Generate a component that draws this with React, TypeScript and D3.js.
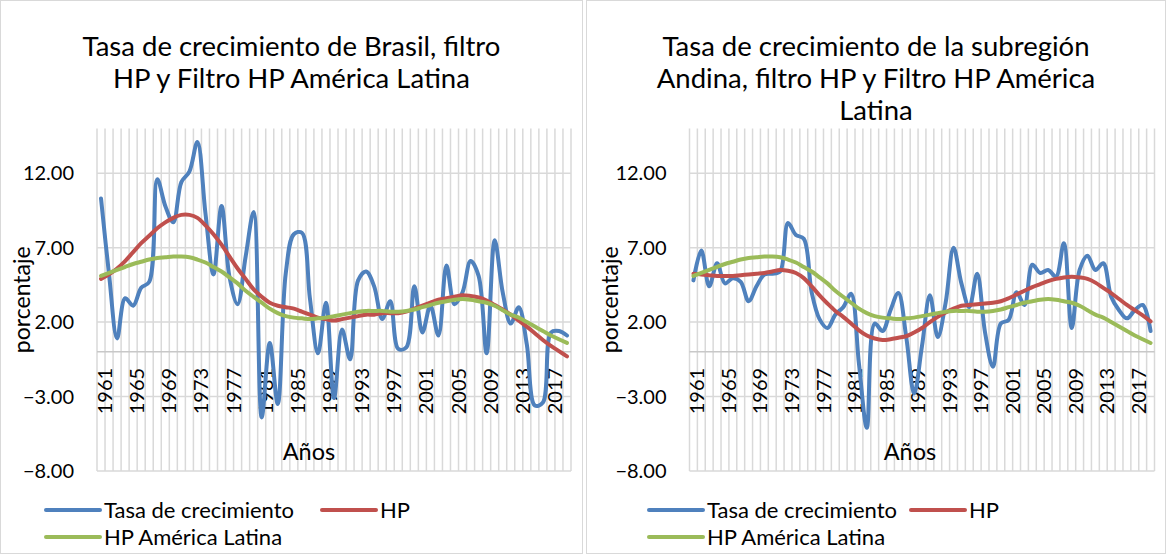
import React from "react";
import * as d3 from "d3";

// categories
const years = [
  1961, 1962, 1963, 1964, 1965, 1966, 1967, 1968, 1969, 1970,
  1971, 1972, 1973, 1974, 1975, 1976, 1977, 1978, 1979, 1980,
  1981, 1982, 1983, 1984, 1985, 1986, 1987, 1988, 1989, 1990,
  1991, 1992, 1993, 1994, 1995, 1996, 1997, 1998, 1999, 2000,
  2001, 2002, 2003, 2004, 2005, 2006, 2007, 2008, 2009, 2010,
  2011, 2012, 2013, 2014, 2015, 2016, 2017, 2018, 2019,
];
const yearTicks = [1961, 1965, 1969, 1973, 1977, 1981, 1985, 1989, 1993, 1997, 2001, 2005, 2009, 2013, 2017];
const yTicks = [-8, -3, 2, 7, 12];
const seriesNames = ["Tasa de crecimiento", "HP", "HP América Latina"];

// Brasil
const brasilTasa = [
  10.3, 5.2, 0.9, 3.6, 3.1, 4.3, 4.7, 11.6, 9.8, 8.7,
  11.4, 12.1, 14.1, 9.3, 5.2, 9.8, 5.0, 3.2, 6.4, 9.4,
  -4.4, 0.6, -3.5, 5.3, 7.9, 8.0, 3.6, -0.1, 3.3, -3.1,
  1.5, -0.5, 4.8, 5.4, 4.4, 2.2, 3.4, 0.2, 0.3, 4.4,
  1.3, 3.1, 1.1, 5.8, 3.2, 4.0, 6.1, 5.1, -0.1, 7.5,
  4.0, 1.9, 3.0, 0.5, -3.6, -3.4, 1.3, 1.4, 1.1,
];
const brasilHP = [
  4.9, 5.2, 5.6, 6.1, 6.7, 7.3, 7.8, 8.3, 8.7, 9.0,
  9.2, 9.2, 9.0, 8.5, 7.9, 7.2, 6.4, 5.6, 4.9, 4.2,
  3.7, 3.3, 3.1, 3.0, 2.9, 2.7, 2.5, 2.3, 2.2, 2.1,
  2.2, 2.3, 2.4, 2.5, 2.5, 2.6, 2.6, 2.6, 2.7, 2.9,
  3.1, 3.3, 3.5, 3.6, 3.7, 3.8, 3.75, 3.65, 3.45, 3.15,
  2.85, 2.5, 2.1, 1.7, 1.25, 0.8, 0.4, 0.05, -0.3,
];

// América Latina (same in both panels)
const latamHP = [
  5.1, 5.3, 5.5, 5.7, 5.9, 6.05, 6.2, 6.3, 6.35, 6.4,
  6.4, 6.35, 6.2, 6.0, 5.7, 5.4, 5.0, 4.6, 4.1, 3.7,
  3.3, 2.9, 2.6, 2.4, 2.3, 2.25, 2.2, 2.25, 2.3, 2.4,
  2.5, 2.6, 2.7, 2.75, 2.75, 2.75, 2.7, 2.7, 2.75, 2.85,
  3.0, 3.15, 3.3, 3.4, 3.5, 3.55, 3.5, 3.4, 3.3, 3.1,
  2.8, 2.5, 2.3, 2.0, 1.7, 1.4, 1.1, 0.85, 0.6,
];

// subregion Andina
const andinaTasa = [
  4.8, 6.8, 4.4, 5.95, 4.6, 4.95, 4.7, 3.4, 4.4, 5.2,
  5.25, 5.4, 8.65, 7.85, 7.6, 4.0, 2.2, 1.6, 2.5, 3.0,
  3.9, -0.8, -5.1, 1.9, 1.4, 2.8, 3.95, 1.0, -2.8, 0.4,
  3.8, 1.0, 3.3, 7.0, 4.6, 3.0, 5.25, 1.3, -1.0, 1.9,
  2.15, 4.0, 3.15, 5.85, 5.3, 5.5, 5.05, 7.3, 1.6, 5.5,
  6.45, 5.5, 5.95, 3.7, 2.8, 2.25, 2.8, 3.15, 1.4,
];
const andinaHP = [
  5.25, 5.2, 5.15, 5.1, 5.1, 5.1, 5.15, 5.2, 5.25, 5.3,
  5.4, 5.5, 5.45, 5.3, 4.95, 4.4, 3.8, 3.25, 2.75, 2.35,
  1.9, 1.45, 1.1, 0.9, 0.8, 0.85, 0.95, 1.05, 1.3, 1.6,
  2.0, 2.35, 2.65, 2.9, 3.1, 3.15, 3.2, 3.25, 3.3, 3.4,
  3.6, 3.85, 4.1, 4.35, 4.55, 4.75, 4.9, 5.0, 5.05, 5.0,
  4.9, 4.65, 4.3, 3.95, 3.55, 3.15, 2.8, 2.45, 2.05,
];

const COLORS = ["#4F81BD", "#C0504D", "#9BBB59"];
const FONT = "Lato, 'Open Sans', sans-serif";
const GRID = "#D9D9D9";

const Panel = ({ box, plot, title, series, labels }) => {
  const x = d3.scaleBand().domain(years).range([plot.left, plot.right]);
  const y = d3.scaleLinear().domain([-8, 15]).range([plot.bottom, plot.top]);
  const cx = (yr) => x(yr) + x.bandwidth() / 2;
  const line = d3
    .line()
    .x((d, i) => cx(years[i]))
    .y((d) => y(d))
    .curve(d3.curveCatmullRom.alpha(0.5));

  const bounds = years.map((yr) => x(yr)).concat([plot.right]);
  const cTitle = (box.x0 + box.x1) / 2;

  return (
    <g>
      <rect x={box.x0 + 0.5} y={0.5} width={box.x1 - box.x0 - 1} height={553} fill="white" stroke={GRID} strokeWidth={1} />

      {title.map((t, i) => (
        <text key={t} x={cTitle} y={56 + i * 32} textAnchor="middle" fontSize={27.5} fill="#000">
          {t}
        </text>
      ))}

      {/* vertical gridlines between categories */}
      {bounds.map((bx, i) => (
        <line key={"v" + i} x1={bx} x2={bx} y1={plot.top} y2={plot.bottom} stroke={GRID} strokeWidth={1.5} />
      ))}
      {yTicks.map((t) => (
        <line key={"h" + t} x1={plot.left} x2={plot.right} y1={y(t)} y2={y(t)} stroke={GRID} strokeWidth={1.5} />
      ))}
      <line x1={plot.left} x2={plot.right} y1={y(0)} y2={y(0)} stroke="#C8C8C8" strokeWidth={1.5} />

      {yTicks.map((t) => (
        <text key={"yl" + t} x={plot.left - 23} y={y(t)} dy="0.35em" textAnchor="end" fontSize={20}>
          {d3.format(".2f")(t)}
        </text>
      ))}

      {yearTicks.map((yr) => (
        <text
          key={"xl" + yr}
          transform={`translate(${cx(yr) + 4},${y(0) + 16}) rotate(-90)`}
          textAnchor="end"
          dy="0.35em"
          fontSize={20}
        >
          {yr}
        </text>
      ))}

      <text
        transform={`translate(${labels.porcX},${(plot.top + plot.bottom) / 2}) rotate(-90)`}
        textAnchor="middle"
        dy="0.35em"
        fontSize={23}
      >
        porcentaje
      </text>
      <text x={labels.aniosX} y={460} textAnchor="middle" fontSize={23.5}>
        Años
      </text>

      {series.map((s, i) => (
        <path key={"s" + i} d={line(s)} fill="none" stroke={COLORS[i]} strokeWidth={4} strokeLinejoin="round" strokeLinecap="round" />
      ))}

      {labels.legend.map((l, i) => (
        <g key={"lg" + i}>
          <line x1={l.x} x2={l.x + 54} y1={l.y} y2={l.y} stroke={COLORS[i]} strokeWidth={4} strokeLinecap="round" />
          <text x={l.x + 58} y={l.y} dy="0.35em" fontSize={22}>
            {seriesNames[i]}
          </text>
        </g>
      ))}
    </g>
  );
};

export default function App() {
  return (
    <svg
      width={1166}
      height={554}
      style={{ position: "absolute", left: 0, top: 0, fontFamily: FONT, background: "white" }}
    >
      <rect width={1166} height={554} fill="white" />
      <Panel
        box={{ x0: 0, x1: 583 }}
        plot={{ left: 97, right: 571, top: 128.5, bottom: 471 }}
        title={["Tasa de crecimiento de Brasil, filtro", "HP y Filtro HP América Latina"]}
        series={[brasilTasa, brasilHP, latamHP]}
        labels={{
          porcX: 22,
          aniosX: 309,
          legend: [
            { x: 46, y: 510 },
            { x: 322, y: 510 },
            { x: 46, y: 537 },
          ],
        }}
      />
      <Panel
        box={{ x0: 586, x1: 1166 }}
        plot={{ left: 689.5, right: 1154.5, top: 128.5, bottom: 471 }}
        title={["Tasa de crecimiento de la subregión", "Andina, filtro HP y Filtro HP América", "Latina"]}
        series={[andinaTasa, andinaHP, latamHP]}
        labels={{
          porcX: 610,
          aniosX: 910,
          legend: [
            { x: 649, y: 510 },
            { x: 911, y: 510 },
            { x: 649, y: 537 },
          ],
        }}
      />
    </svg>
  );
}
